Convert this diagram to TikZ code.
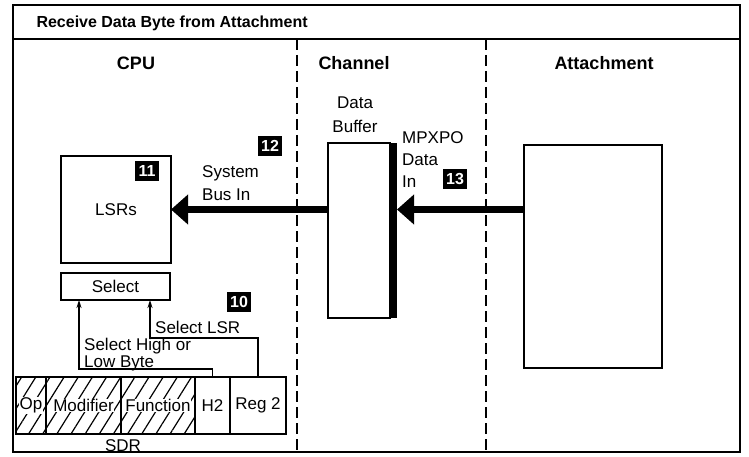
\documentclass[tikz,border=0pt]{standalone}
\usepackage{fontspec}
\setmainfont{Liberation Sans}
\usetikzlibrary{arrows.meta, positioning, patterns.meta}

\begin{document}
\begin{tikzpicture}[
  x=1pt, y=-1pt,
  font=\fontsize{17}{19}\selectfont,
  frame/.style={line width=1.4pt},
  divider/.style={line width=1.2pt, dash pattern=on 11pt off 5pt},
  box/.style={draw, line width=1.6pt, inner sep=0pt, outer sep=0pt},
  field/.style={box, anchor=north west, minimum height=57pt},
  hatched/.style={pattern={Lines[angle=58,distance=12pt,line width=1.2pt]}},
  fieldtext/.style={fill=white, inner sep=0.5pt},
  heading/.style={font=\fontsize{18}{20}\selectfont\bfseries},
  badge/.style={fill=black, text=white, font=\fontsize{16}{16}\selectfont\bfseries, minimum width=24pt, minimum height=20pt, inner sep=0pt},
  bus/.style={line width=7pt, -{Triangle[length=17pt,width=29pt]}},
  sig/.style={line width=1.4pt, -{Stealth[length=8pt,width=5pt]}},
  lbl/.style={align=left, inner sep=0pt, font=\fontsize{17}{17}\selectfont}
]
\useasboundingbox (0,0) rectangle (749,457);

% Frame and title
\draw[frame] (13,5) rectangle (740,452);
\draw[frame] (13,39) -- (740,39);
\node[heading, font=\fontsize{16}{18}\selectfont\bfseries, anchor=west] (title) at (33,23) {Receive Data Byte from Attachment};

% Column headings
\node[heading] (cpu) at (136,63) {CPU};
\node[heading] (channel) at (354,63) {Channel};
\node[heading] (attach) at (604,63) {Attachment};

\draw[divider] (297,39) -- (297,452);
\draw[divider] (486,39) -- (486,452);

% === CPU column ===
\node[box, minimum width=110pt, minimum height=107pt] (lsr) at (116,209.5) {LSRs};
\node[badge] (b11) at (147,171) {11};
\node[box, minimum width=109pt, minimum height=27pt] (sel) at (115.5,286.5) {Select};

\node[field, hatched, minimum width=30pt, label={[fieldtext]center:Op}] (op) at (16,377) {};
\node[field, hatched, minimum width=75pt, label={[fieldtext]center:Modifier}] (mod) at (op.north east) {};
\node[field, hatched, minimum width=74pt, label={[fieldtext]center:Function}] (fun) at (mod.north east) {};
\node[field, minimum width=35pt] (htwo) at (fun.north east) {};
\node at (htwo.center) {H2};
\node[field, minimum width=56pt] (regtwo) at (htwo.north east) {};
\node at (regtwo.center) {Reg 2};
\node (sdr) at (123,446) {SDR};

\coordinate (hl) at ([xshift=18pt]sel.south west);
\coordinate (hr) at ([xshift=-20pt]sel.south east);
\draw[sig] (htwo.north) -- ++(0,-8) -| (hl);
\draw[sig] (regtwo.north) -- ++(0,-39) -| (hr);

\node[lbl, anchor=west] (hilo) at (84,355) {Select High or\\Low Byte};
\node[lbl, anchor=west] (sellsr) at (155,327) {Select LSR};
\node[badge] (b10) at (239,302) {10};

\node[lbl, anchor=west] (sysbus) at (202,183.5) {System\\[6pt]Bus In};
\node[badge] (b12) at (270,146) {12};

% === Channel column ===
\node[box, minimum width=62pt, minimum height=175pt] (buf) at (359,230.5) {};
\node[fill=black, minimum width=7pt, minimum height=175pt, inner sep=0pt, outer sep=0pt, anchor=west] (bar) at (buf.east) {};
\node[lbl, align=center] (buflbl) at (355,115) {Data\\[7pt]Buffer};

\node[lbl, anchor=west] (mpx) at (402,160) {MPXPO\\[5pt]Data\\[5pt]In};
\node[badge] (b13) at (455,179) {13};

% === Attachment column ===
\node[box, minimum width=138pt, minimum height=223pt] (att) at (593,256.5) {};

% Data path
\draw[bus] (buf.west |- lsr.east) -- (lsr.east);
\draw[bus] (att.west |- lsr.east) -- (bar.east |- lsr.east);

\end{tikzpicture}
\end{document}
